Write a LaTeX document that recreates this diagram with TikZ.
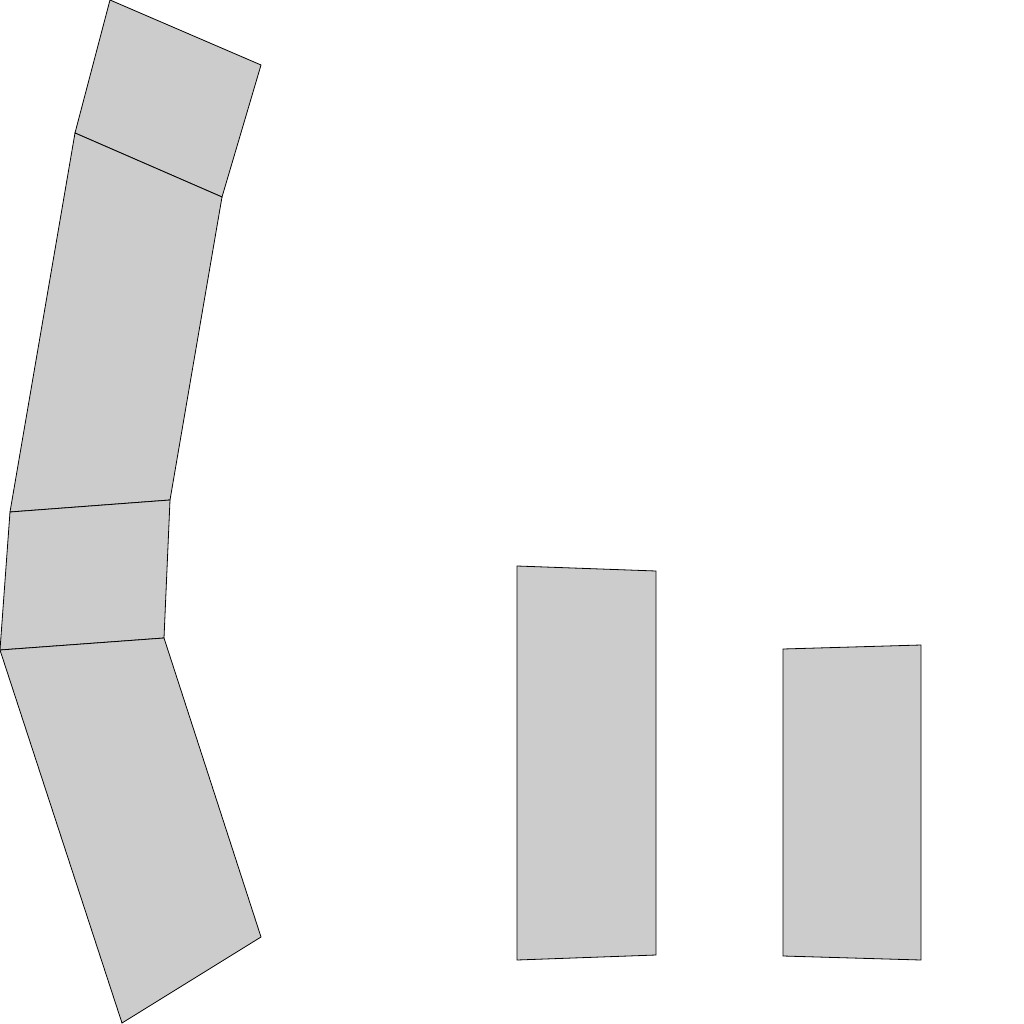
\documentclass[tikz,border=0pt]{standalone}
\begin{document}
\begin{tikzpicture}[x=1pt,y=-1pt,
  block/.style={draw=black,fill=black!20,line width=0.8pt,line join=miter}]
\useasboundingbox (0,0) rectangle (1024,1024);
\coordinate (a1) at (110,0);
\coordinate (a2) at (261,65);
\coordinate (b1) at (75,133);
\coordinate (b2) at (222,197);
\coordinate (c1) at (10,512);
\coordinate (c2) at (170,500);
\coordinate (d1) at (0,650);
\coordinate (d2) at (164,638);
\coordinate (e1) at (122,1023);
\coordinate (e2) at (261,937);
\fill[black!20] (a1) -- (a2) -- (b2) -- (c2) -- (d2) -- (e2) -- (e1) -- (d1) -- (c1) -- (b1) -- cycle;
\draw[block] (a1) -- (a2) -- (b2) -- (b1) -- cycle;
\draw[block] (b1) -- (b2) -- (c2) -- (c1) -- cycle;
\draw[block] (c1) -- (c2) -- (d2) -- (d1) -- cycle;
\draw[block] (d1) -- (d2) -- (e2) -- (e1) -- cycle;
\coordinate (r1) at (517,566);
\coordinate (r2) at (656,571);
\coordinate (r3) at (656,955);
\coordinate (r4) at (517,960);
\draw[block] (r1) -- (r2) -- (r3) -- (r4) -- cycle;
\coordinate (s1) at (783,649);
\coordinate (s2) at (921,645);
\coordinate (s3) at (921,960);
\coordinate (s4) at (783,956);
\draw[block] (s1) -- (s2) -- (s3) -- (s4) -- cycle;
\end{tikzpicture}
\end{document}
